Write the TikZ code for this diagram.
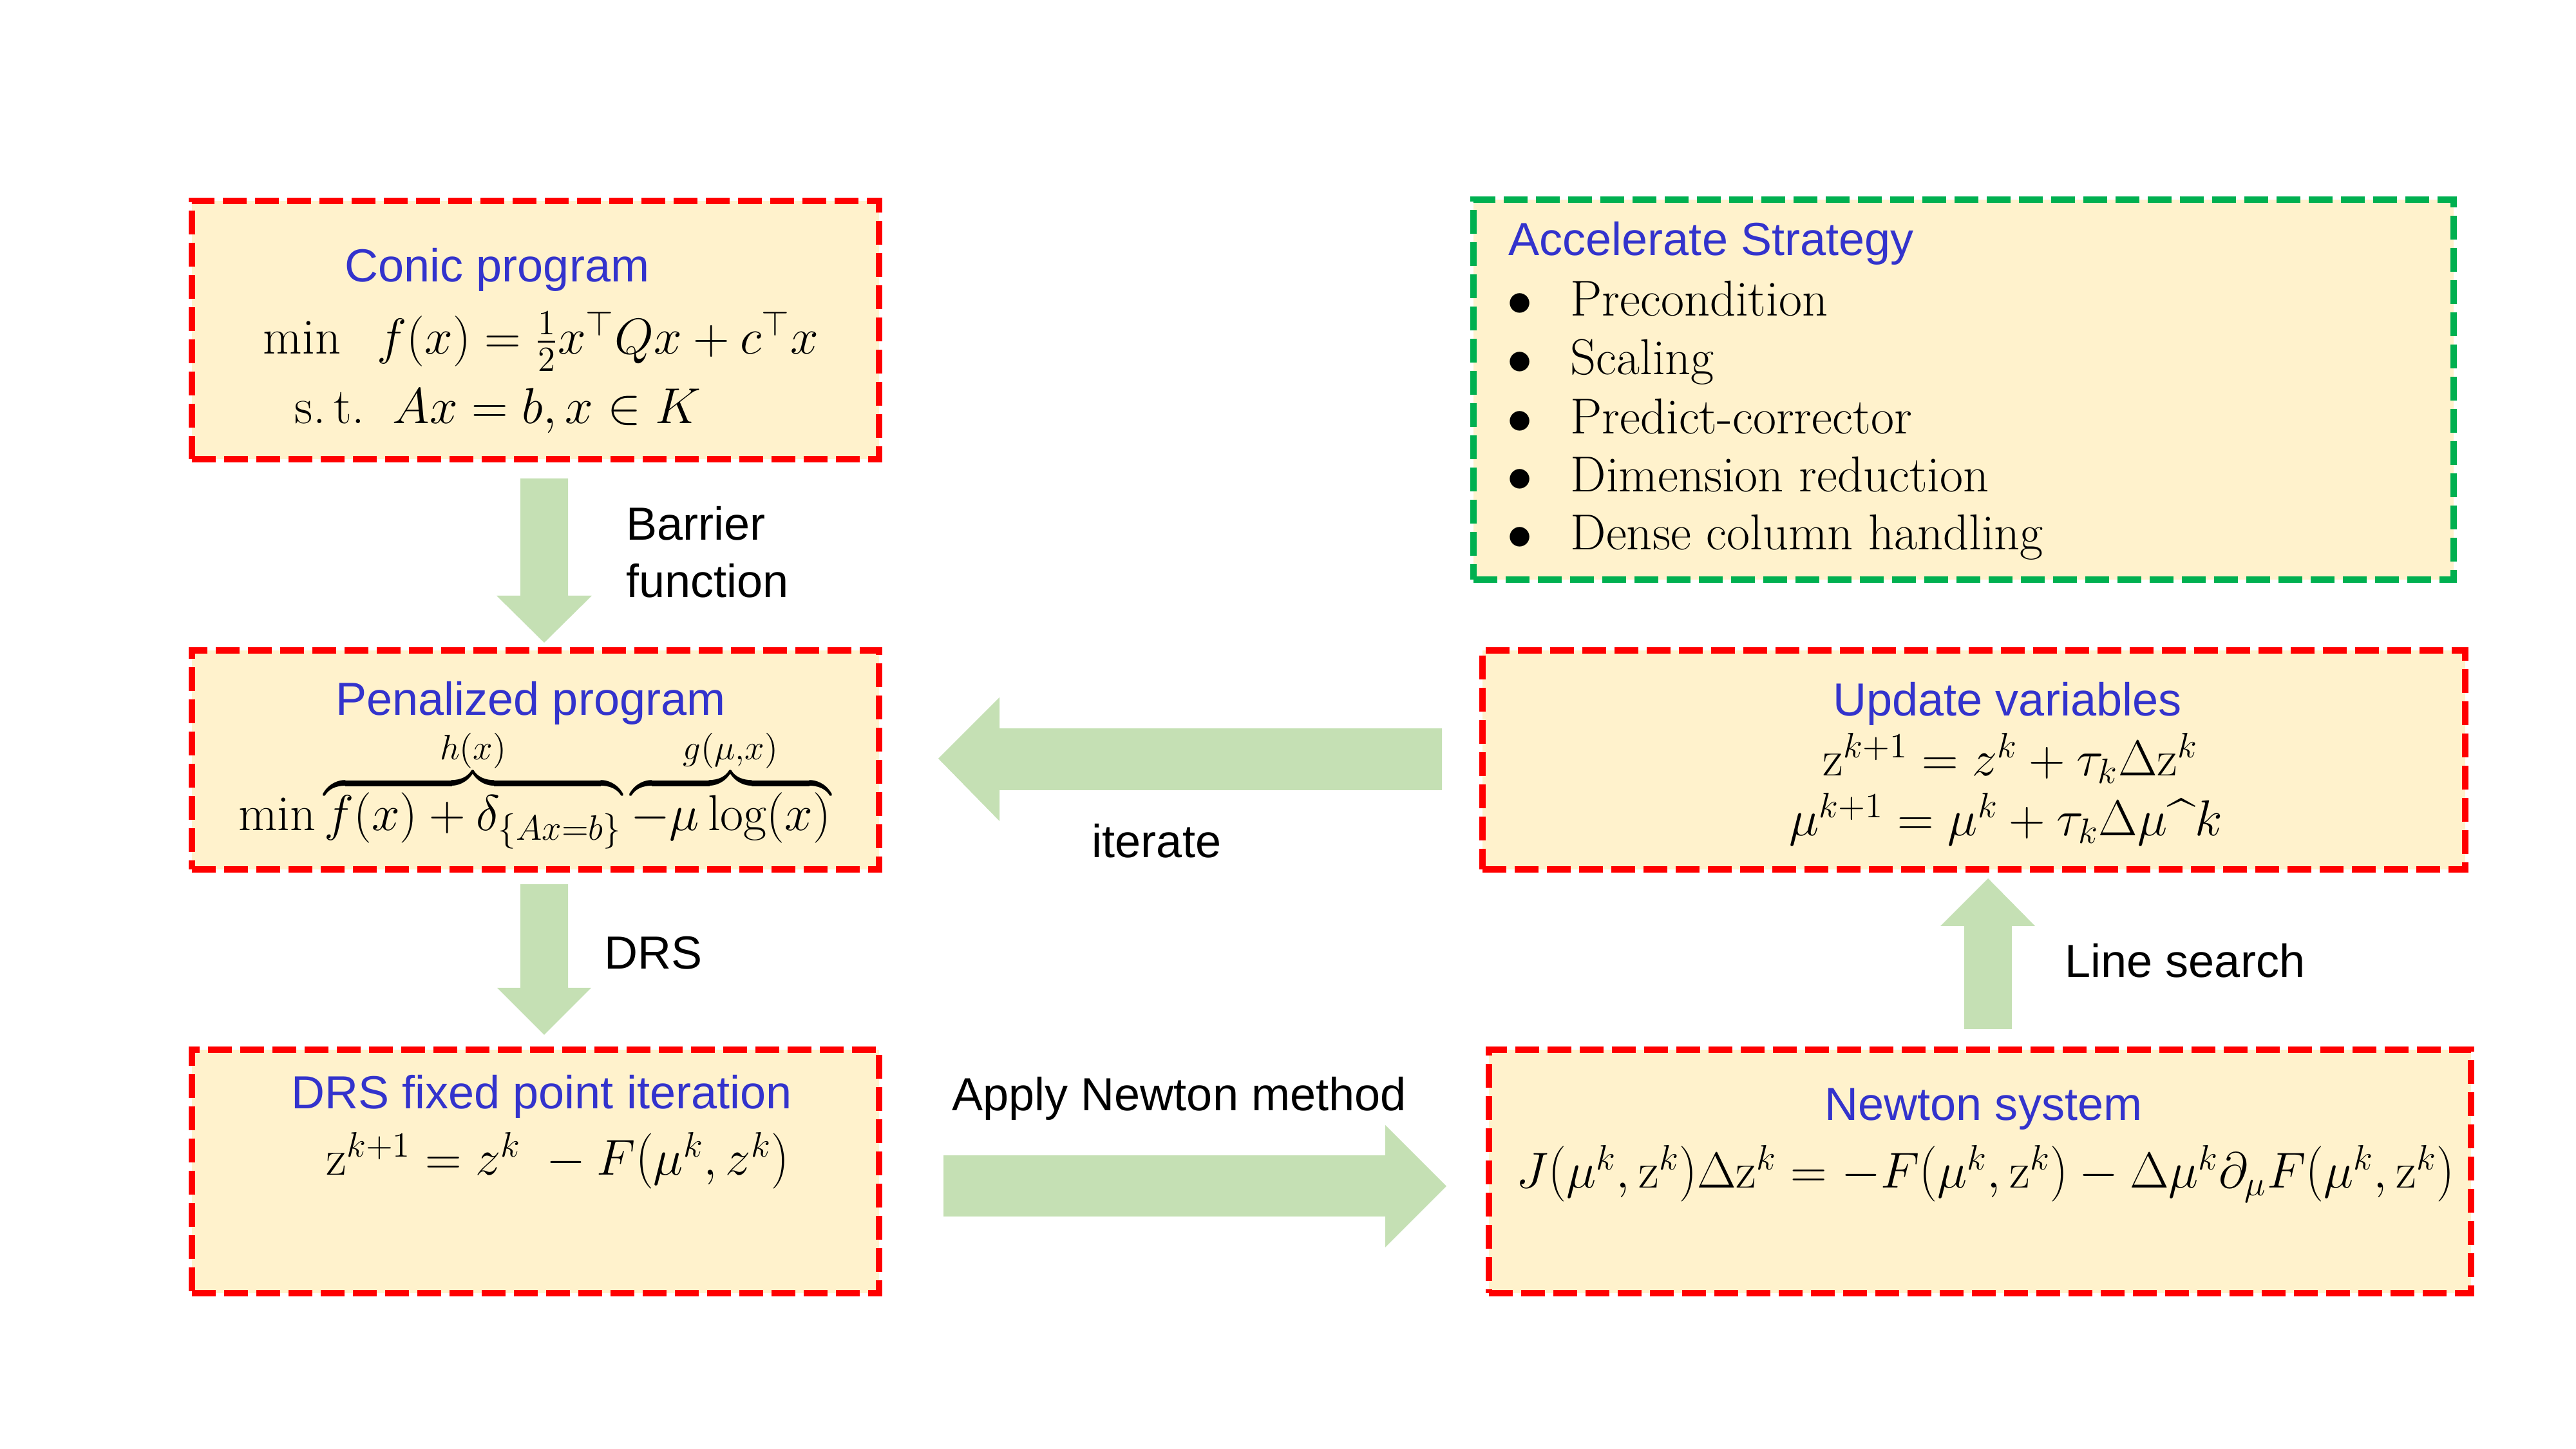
\RequirePackage{fix-cm}
\documentclass[tikz,border=0pt]{standalone}
\usepackage{amsmath}
\usepackage{fontspec}
\setsansfont{Liberation Sans}
\definecolor{boxfill}{RGB}{255,242,204}
\definecolor{boxred}{RGB}{255,0,0}
\definecolor{boxgreen}{RGB}{0,176,80}
\definecolor{arrowgreen}{RGB}{197,224,180}
\definecolor{titleblue}{RGB}{51,51,204}
\newcommand\tallopen{\mathopen{\scalebox{1}[1.1]{$($}}}
\newcommand\tallclose{\mathclose{\scalebox{1}[1.1]{$)$}}}
\tikzset{
  redbox/.style={draw=boxred, fill=boxfill, line width=1mm, dash pattern=on 3.7mm off 1.3mm, inner sep=0pt},
  greenbox/.style={redbox, draw=boxgreen},
  boxtitle/.style={font=\sffamily\fontsize{20.5}{25}\selectfont, text=titleblue, inner sep=0pt},
  lbl/.style={font=\sffamily\fontsize{20.5}{25.5}\selectfont, inner sep=0pt},
  eq/.style={font=\fontsize{22.3}{27}\selectfont, inner sep=0pt, anchor=base},
  item/.style={font=\fontsize{22.3}{26}\selectfont, inner sep=0pt, anchor=base west},
  bigarrow/.style={fill=arrowgreen}
}
\begin{document}
\begin{tikzpicture}
  \useasboundingbox (0,0) rectangle (40,22.5);
  \node[redbox, minimum width=10.67cm, minimum height=4.01cm] (conic) at (8.315,17.375) {};
  \node[redbox, minimum width=10.67cm, minimum height=3.40cm] (penal) at (8.315,10.70) {};
  \node[redbox, minimum width=10.67cm, minimum height=3.78cm] (drs) at (8.315,4.31) {};
  \node[greenbox, minimum width=15.22cm, minimum height=5.90cm] (accel) at (30.49,16.45) {};
  \node[redbox, minimum width=15.26cm, minimum height=3.40cm] (update) at (30.65,10.70) {};
  \node[redbox, minimum width=15.25cm, minimum height=3.78cm] (newton) at (30.745,4.31) {};

  \node[boxtitle] (conictitle) at (7.72,18.31) {Conic program};
  \node[eq] (conicobj) at (8.40,17.00) {$\min\;\; f(x)=\frac{1}{2}x^{\top}Qx+c^{\top}x$};
  \node[eq] (conicst) at (7.73,15.92) {$\text{s.\,t.}\;\; Ax=b,x\in K$};

  \node[boxtitle] (penaltitle) at (8.24,11.58) {Penalized program};
  \node[eq] (penaleq) at (8.30,9.60) {$\min\overbrace{f(x)+\delta_{\{Ax=b\}}}^{h(x)}\overbrace{-\mu\log(x)}^{g(\mu,x)}$};

  \node[boxtitle] (drstitle) at (8.41,5.47) {DRS fixed point iteration};
  \node[eq] (drseq) at (8.66,4.25) {$\mathrm{z}^{k+1}=z^k\;-F\tallopen\mu^k,z^k\tallclose$};

  \node[boxtitle, anchor=west] (acceltitle) at (23.42,18.72) {Accelerate Strategy};
  \node[item] (it1) at (23.40,17.59) {\makebox[0.98cm][l]{$\bullet$}Precondition};
  \node[item] (it2) at (23.40,16.68) {\makebox[0.98cm][l]{$\bullet$}Scaling};
  \node[item] (it3) at (23.40,15.76) {\makebox[0.98cm][l]{$\bullet$}Predict-corrector};
  \node[item] (it4) at (23.40,14.86) {\makebox[0.98cm][l]{$\bullet$}Dimension reduction};
  \node[item] (it5) at (23.40,13.96) {\makebox[0.98cm][l]{$\bullet$}Dense column handling};

  \node[boxtitle] (updatetitle) at (31.17,11.57) {Update variables};
  \node[eq] (updatez) at (31.22,10.45) {$\mathrm{z}^{k+1}=z^k+\tau_k\Delta\mathrm{z}^k$};
  \node[eq] (updatemu) at (31.15,9.52) {$\mu^{k+1}=\mu^k+\tau_k\Delta\mu\text{\textasciicircum}k$};

  \node[boxtitle] (newtontitle) at (30.80,5.28) {Newton system};
  \node[eq] (newtoneq) at (30.83,4.05) {$J\tallopen\mu^k,\mathrm{z}^k\tallclose\Delta\mathrm{z}^k=-F\tallopen\mu^k,\mathrm{z}^k\tallclose-\Delta\mu^k\partial_\mu F\tallopen\mu^k,\mathrm{z}^k\tallclose$};

  \fill[bigarrow] (8.08,15.07) -- (8.82,15.07) -- (8.82,13.25) -- (9.19,13.25) -- (8.45,12.52) -- (7.71,13.25) -- (8.08,13.25) -- cycle;
  \node[lbl, align=left, anchor=base west] (barrierlbl) at (9.72,13.22) {Barrier\\function};

  \fill[bigarrow] (8.08,8.77) -- (8.82,8.77) -- (8.82,7.16) -- (9.18,7.16) -- (8.45,6.43) -- (7.72,7.16) -- (8.08,7.16) -- cycle;
  \node[lbl, anchor=base west] (drslbl) at (9.38,7.45) {DRS};

  \fill[bigarrow] (22.39,11.19) -- (15.52,11.19) -- (15.52,11.67) -- (14.57,10.72) -- (15.52,9.75) -- (15.52,10.23) -- (22.39,10.23) -- cycle;
  \node[lbl, anchor=base] (iterlbl) at (17.96,9.18) {iterate};

  \fill[bigarrow] (14.65,4.56) -- (21.51,4.56) -- (21.51,5.03) -- (22.46,4.08) -- (21.51,3.13) -- (21.51,3.61) -- (14.65,3.61) -- cycle;
  \node[lbl, anchor=base west] (applylbl) at (14.78,5.25) {Apply Newton method};

  \fill[bigarrow] (30.50,6.52) -- (30.50,8.12) -- (30.13,8.12) -- (30.87,8.86) -- (31.60,8.12) -- (31.24,8.12) -- (31.24,6.52) -- cycle;
  \node[lbl, anchor=base west] (searchlbl) at (32.06,7.32) {Line search};
\end{tikzpicture}
\end{document}
